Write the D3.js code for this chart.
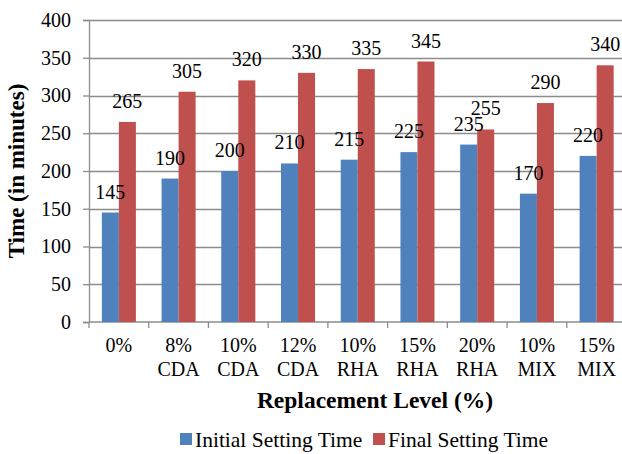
<!DOCTYPE html>
<html lang="en">
<head>
    <meta charset="UTF-8">
    <title>Setting Time</title>
    <style>
        body { margin: 0; background: #fff; }
        svg text { font-family: "Liberation Serif", "Times New Roman", serif !important; fill: #000; }
    </style>
</head>
<body>
    <div id="chart"></div>
    <script src="https://cdn.jsdelivr.net/npm/d3@7/dist/d3.min.js"></script>
    <script>
        // chart data
        const levels = [["0%"], ["8%", "CDA"], ["10%", "CDA"], ["12%", "CDA"], ["10%", "RHA"],
                        ["15%", "RHA"], ["20%", "RHA"], ["10%", "MIX"], ["15%", "MIX"]];
        const initialTime = [145, 190, 200, 210, 215, 225, 235, 170, 220];
        const finalTime = [265, 305, 320, 330, 335, 345, 255, 290, 340];
        const seriesNames = ["Initial Setting Time", "Final Setting Time"];
        const yTicks = [0, 50, 100, 150, 200, 250, 300, 350, 400];

        const colors = ["#4f81bd", "#c0504d"];
        const width = 622, height = 454;
        const plotLeft = 89, plotRight = 626.5, plotTop = 20, plotBottom = 322;
        const serif = "'Liberation Serif', 'Times New Roman', serif";

        const svg = d3.select("#chart").append("svg")
            .attr("width", width)
            .attr("height", height);

        const keys = levels.map((d) => d.join(" "));
        const x = d3.scaleBand().domain(keys).range([plotLeft, plotRight]).padding(0);
        const bw = x.bandwidth();
        const gw = bw * 0.57;
        const x1 = d3.scaleBand().domain([0, 1]).range([(bw - gw) / 2, (bw + gw) / 2]).padding(0);
        const y = d3.scaleLinear().domain([0, 400]).range([plotBottom, plotTop]);

        // gridlines
        svg.append("g")
            .selectAll("line")
            .data(yTicks.filter((t) => t > 0))
            .join("line")
            .attr("x1", plotLeft).attr("x2", width)
            .attr("y1", (d) => Math.round(y(d)) + 0.5)
            .attr("y2", (d) => Math.round(y(d)) + 0.5)
            .attr("stroke", "#8c8c8c")
            .attr("stroke-width", 1.3);

        // y axis
        const yAxis = svg.append("g")
            .attr("transform", `translate(${plotLeft},0)`)
            .call(d3.axisLeft(y).tickValues(yTicks).tickSize(6).tickPadding(12))
            .attr("font-family", null)
            .attr("font-size", null);
        yAxis.select(".domain").attr("stroke", "#8c8c8c").attr("stroke-width", 1.3);
        yAxis.selectAll(".tick line").attr("stroke", "#8c8c8c").attr("stroke-width", 1.3);
        yAxis.selectAll("text").style("font-size", "20px").style("font-family", serif);

        // x axis line and ticks at band edges
        const xg = svg.append("g");
        xg.append("line")
            .attr("x1", plotLeft).attr("x2", width)
            .attr("y1", plotBottom).attr("y2", plotBottom)
            .attr("stroke", "#8c8c8c").attr("stroke-width", 1.3);
        xg.selectAll("line.tk")
            .data(keys)
            .join("line")
            .classed("tk", true)
            .attr("x1", (d) => x(d)).attr("x2", (d) => x(d))
            .attr("y1", plotBottom).attr("y2", plotBottom + 6)
            .attr("stroke", "#8c8c8c").attr("stroke-width", 1.3);

        // category labels
        xg.selectAll("text.cat")
            .data(levels)
            .join("text")
            .classed("cat", true)
            .attr("text-anchor", "middle")
            .style("font-size", "20px")
            .attr("x", (d, i) => x(keys[i]) + bw / 2)
            .attr("y", 352)
            .selectAll("tspan")
            .data((d) => d)
            .join("tspan")
            .attr("x", function () { return this.parentNode.getAttribute("x"); })
            .attr("dy", (d, i) => i === 0 ? 0 : 24)
            .text((d) => d);

        // bars
        const rows = keys.map((k, i) => ({ key: k, values: [initialTime[i], finalTime[i]] }));
        const groups = svg.append("g")
            .selectAll("g")
            .data(rows)
            .join("g")
            .attr("transform", (d) => `translate(${x(d.key)},0)`);

        groups.selectAll("rect")
            .data((d) => d.values)
            .join("rect")
            .attr("x", (d, i) => x1(i))
            .attr("width", x1.bandwidth())
            .attr("y", (d) => y(d))
            .attr("height", (d) => y(0) - y(d))
            .attr("fill", (d, i) => colors[i]);

        // value labels above the bars
        groups.selectAll("text")
            .data((d) => d.values)
            .join("text")
            .attr("text-anchor", "middle")
            .style("font-size", "20px")
            .attr("x", (d, i) => x1(i) + x1.bandwidth() / 2)
            .attr("y", (d) => y(d) - 14)
            .text((d) => d);

        // axis titles
        svg.append("text")
            .attr("transform", `translate(24,${(plotTop + plotBottom) / 2}) rotate(-90)`)
            .attr("text-anchor", "middle")
            .style("font-size", "23px")
            .attr("font-weight", "bold")
            .text("Time (in minutes)");

        svg.append("text")
            .attr("x", 375)
            .attr("y", 408)
            .attr("text-anchor", "middle")
            .style("font-size", "23.5px")
            .attr("font-weight", "bold")
            .text("Replacement Level (%)");

        // legend
        const legendX = [180, 373];
        const legend = svg.append("g")
            .selectAll("g")
            .data(seriesNames)
            .join("g")
            .attr("transform", (d, i) => `translate(${legendX[i]},433)`);
        legend.append("rect")
            .attr("width", 12).attr("height", 12)
            .attr("fill", (d, i) => colors[i]);
        legend.append("text")
            .attr("x", 15).attr("y", 14)
            .style("font-size", "21.5px")
            .text((d) => d);
    </script>
</body>
</html>
